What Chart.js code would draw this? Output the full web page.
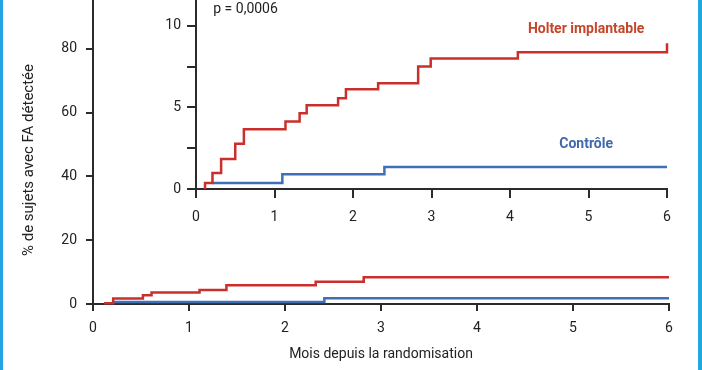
<!DOCTYPE html>
<html>
<head>
<meta charset="utf-8">
<script src="https://cdn.jsdelivr.net/npm/chart.js@4.4.1/dist/chart.umd.min.js"></script>
<style>
  html, body { margin: 0; padding: 0; background: #fff; }
  body { width: 702px; height: 370px; position: relative; overflow: hidden; }
  #main { position: absolute; left: 0; top: 0; }
  #inset { position: absolute; left: 140px; top: 0; }
  .edge { position: absolute; top: 0; width: 3px; height: 370px; background: #22a5e2; }
</style>
</head>
<body>
<canvas id="main" width="702" height="370"></canvas>
<canvas id="inset" width="560" height="235"></canvas>
<div class="edge" style="left:0"></div>
<div class="edge" style="right:0;width:4px"></div>
<script>
// mois depuis la randomisation / % cumulé de sujets avec FA détectée
const monthTicks = [0, 1, 2, 3, 4, 5, 6];

// courbe principale (échelle 0-100 %)
const holterMonths  = [0.115, 0.21, 0.52, 0.61, 1.11, 1.39, 2.32, 2.82, 6];
const holterPct     = [0.2, 1.7, 2.75, 3.6, 4.4, 5.85, 7.0, 8.4, 8.4];
const controlMonths = [0.21, 2.41, 6];
const controlPct    = [0.6, 1.8, 1.8];

// encart agrandi (échelle 0-10 %)
const holterZoomMonths  = [0.115, 0.115, 0.21, 0.32, 0.50, 0.61, 1.14, 1.32, 1.41, 1.81, 1.91, 2.32, 2.83, 2.99, 4.10, 6];
const holterZoomPct     = [0, 0.37, 0.98, 1.84, 2.77, 3.67, 4.14, 4.65, 5.14, 5.57, 6.12, 6.49, 7.51, 8.00, 8.39, 8.94];
const controlZoomMonths = [0.21, 1.10, 2.40, 6];
const controlZoomPct    = [0.37, 0.90, 1.35, 1.35];

const seriesNames = ['Holter implantable', 'Contrôle'];
const pValue = 'p = 0,0006';

const pts = (xs, ys) => xs.map((x, i) => ({x: x, y: ys[i]}));

const red = '#c9302c';
const blue = '#3e6fb7';
const textColor = '#222';
const axisColor = '#2b2b2b';
const font = {family: 'Roboto', size: 14};

function line(label, data, color) {
  return {label: label, data: data, borderColor: color, borderWidth: 2.5,
    stepped: 'before', pointRadius: 0, fill: false, clip: false};
}

// no extra room above/below the y axis for edge labels
function noPad(width) {
  return s => { s.width = width; s.paddingTop = 0; s.paddingBottom = 0; };
}

const yTitle = {
  id: 'yTitle',
  afterDraw(chart) {
    const c = chart.ctx;
    c.save();
    c.translate(29, 160);
    c.rotate(-Math.PI / 2);
    c.font = '15px Roboto';
    c.fillStyle = textColor;
    c.textAlign = 'center';
    c.textBaseline = 'middle';
    c.fillText('% de sujets avec FA détectée', 0, 0);
    c.restore();
  }
};

new Chart(document.getElementById('main'), {
  type: 'line',
  data: {
    datasets: [
      line(seriesNames[0], pts(holterMonths, holterPct), red),
      line(seriesNames[1], pts(controlMonths, controlPct), blue)
    ]
  },
  options: {
    responsive: false,
    animation: false,
    layout: {padding: {left: 0, right: 33, top: 0, bottom: 0}},
    plugins: {legend: {display: false}, tooltip: {enabled: false}},
    scales: {
      x: {
        type: 'linear', min: 0, max: 6,
        afterBuildTicks: s => { s.ticks = monthTicks.map(v => ({value: v})); },
        ticks: {color: textColor, font: font, padding: 9},
        grid: {drawOnChartArea: false, tickLength: 7, color: axisColor, lineWidth: 2},
        border: {color: axisColor, width: 2},
        title: {display: true, text: 'Mois depuis la randomisation', color: textColor, font: font, padding: {top: 0, bottom: 7}},
        afterFit: s => { s.height = 66; }
      },
      y: {
        min: 0, max: 95.3,
        ticks: {stepSize: 20, color: textColor, font: font, padding: 9},
        afterBuildTicks: s => { s.ticks = s.ticks.filter(t => t.value % 20 === 0); },
        grid: {drawOnChartArea: false, tickLength: 7, color: axisColor, lineWidth: 2},
        border: {color: axisColor, width: 2},
        afterFit: noPad(93)
      }
    }
  },
  plugins: [yTitle]
});

const insetNotes = {
  id: 'insetNotes',
  afterDatasetsDraw(chart) {
    const c = chart.ctx, xs = chart.scales.x, ys = chart.scales.y;
    const notes = [
      {text: pValue, x: 0.22, y: 11.0, color: textColor, weight: 'normal', align: 'left'},
      {text: seriesNames[0], x: 4.97, y: 9.8, color: '#c4462b', weight: 'bold', align: 'center'},
      {text: seriesNames[1], x: 4.97, y: 2.7, color: '#4169aa', weight: 'bold', align: 'center'}
    ];
    c.save();
    notes.forEach(n => {
      c.font = n.weight + ' 14px Roboto';
      c.fillStyle = n.color;
      c.textAlign = n.align;
      c.textBaseline = 'middle';
      c.fillText(n.text, xs.getPixelForValue(n.x), ys.getPixelForValue(n.y));
    });
    c.restore();
  }
};

new Chart(document.getElementById('inset'), {
  type: 'line',
  data: {
    datasets: [
      line(seriesNames[0], pts(holterZoomMonths, holterZoomPct), red),
      line(seriesNames[1], pts(controlZoomMonths, controlZoomPct), blue)
    ]
  },
  options: {
    responsive: false,
    animation: false,
    layout: {padding: {left: 0, right: 33, top: 0, bottom: 0}},
    plugins: {legend: {display: false}, tooltip: {enabled: false}},
    scales: {
      x: {
        type: 'linear', min: 0, max: 6,
        afterBuildTicks: s => { s.ticks = monthTicks.map(v => ({value: v})); },
        ticks: {color: textColor, font: font, padding: 11},
        grid: {drawOnChartArea: false, tickLength: 9, color: axisColor, lineWidth: 2},
        border: {color: axisColor, width: 2},
        afterFit: s => { s.height = 46; }
      },
      y: {
        min: 0, max: 11.59,
        ticks: {stepSize: 2.5, color: textColor, font: font, padding: 6,
          callback: v => (v % 5 === 0 ? v : '')},
        afterBuildTicks: s => { s.ticks = s.ticks.filter(t => t.value % 2.5 === 0); },
        grid: {drawOnChartArea: false, tickLength: 9, color: axisColor, lineWidth: 2},
        border: {color: axisColor, width: 2},
        afterFit: noPad(56)
      }
    }
  },
  plugins: [insetNotes]
});
</script>
</body>
</html>
